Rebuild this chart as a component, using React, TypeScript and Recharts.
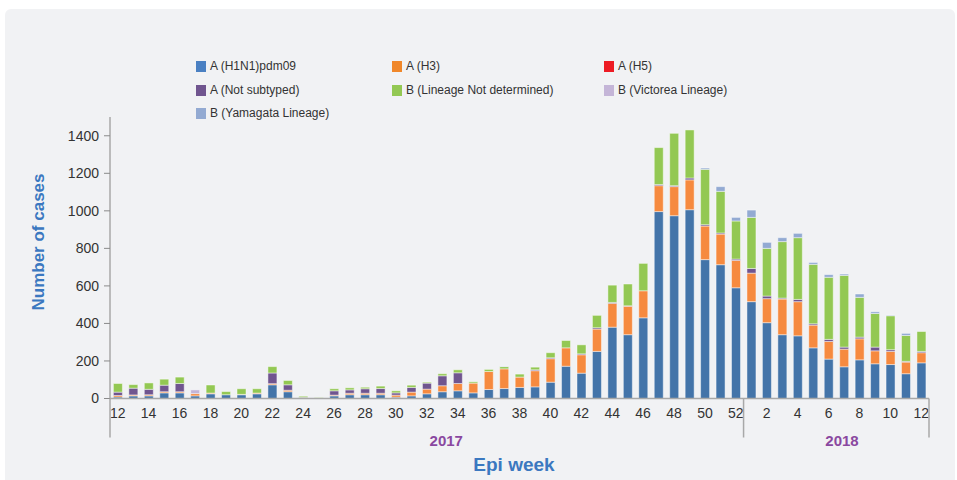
import React from 'react';
import { BarChart, Bar, XAxis, YAxis } from 'recharts';

// Epi weeks: 2017 wk12..52, then 2018 wk1..12
const weeks2017 = [12, 13, 14, 15, 16, 17, 18, 19, 20, 21, 22, 23, 24, 25, 26, 27, 28, 29, 30, 31, 32, 33, 34, 35, 36, 37, 38, 39, 40, 41, 42, 43, 44, 45, 46, 47, 48, 49, 50, 51, 52];
const weeks2018 = [1, 2, 3, 4, 5, 6, 7, 8, 9, 10, 11, 12];

const h1n1 = [8, 14, 14, 30, 30, 14, 25, 20, 20, 25, 73, 36, 2, 0, 14, 20, 20, 20, 7, 14, 25, 36, 41, 30, 48, 53, 59, 62, 87, 172, 135, 251, 380, 340, 430, 996, 974, 1006, 740, 713, 590,
  516, 404, 340, 334, 270, 210, 169, 206, 185, 181, 132, 190];
const h3 = [8, 5, 6, 6, 6, 12, 4, 0, 2, 4, 6, 8, 0, 0, 4, 8, 8, 8, 11, 20, 25, 32, 39, 52, 96, 105, 55, 86, 125, 98, 98, 119, 127, 152, 144, 138, 155, 159, 179, 163, 146,
  152, 128, 190, 182, 121, 94, 94, 112, 69, 70, 62, 54];
const h5 = new Array(53).fill(0);
const notSubtyped = [18, 36, 29, 35, 44, 0, 0, 0, 0, 0, 57, 29, 4, 0, 23, 18, 24, 25, 12, 25, 32, 53, 57, 0, 0, 0, 0, 5, 5, 0, 5, 7, 5, 2, 0, 6, 5, 10, 7, 6, 7,
  25, 14, 5, 12, 7, 11, 11, 9, 20, 9, 4, 7];
const bNotDetermined = [46, 19, 34, 32, 34, 0, 43, 17, 30, 23, 34, 23, 6, 4, 11, 11, 8, 13, 11, 12, 5, 11, 16, 7, 11, 12, 16, 14, 27, 39, 48, 66, 92, 116, 146, 197, 279, 256, 295, 222, 203,
  272, 254, 301, 329, 317, 331, 382, 212, 179, 181, 138, 106];
const bVictoria = [0, 0, 0, 0, 0, 20, 0, 0, 0, 0, 0, 0, 0, 0, 0, 0, 0, 0, 0, 0, 0, 0, 0, 0, 0, 0, 0, 0, 0, 0, 0, 0, 0, 0, 0, 0, 0, 0, 0, 0, 0,
  0, 0, 0, 0, 0, 0, 0, 0, 0, 0, 0, 0];
const bYamagata = [0, 0, 0, 0, 0, 0, 0, 0, 0, 0, 0, 0, 0, 0, 0, 0, 0, 0, 0, 0, 0, 0, 0, 0, 0, 2, 0, 0, 0, 0, 0, 0, 0, 0, 0, 0, 0, 0, 7, 25, 19,
  39, 32, 21, 23, 10, 14, 7, 18, 9, 3, 11, 0];

const yTicks = [0, 200, 400, 600, 800, 1000, 1200, 1400];

const series = [
  { key: 'h1n1', name: 'A (H1N1)pdm09', color: '#4374a9', legend: '#4a80c2', values: h1n1 },
  { key: 'h3', name: 'A (H3)', color: '#f68a3f', legend: '#f0872a', values: h3 },
  { key: 'h5', name: 'A (H5)', color: '#ed1c24', legend: '#ed1c24', values: h5 },
  { key: 'ns', name: 'A (Not subtyped)', color: '#70558f', legend: '#70558f', values: notSubtyped },
  { key: 'bnd', name: 'B (Lineage Not determined)', color: '#93c853', legend: '#93c853', values: bNotDetermined },
  { key: 'vic', name: 'B (Victorea Lineage)', color: '#c4b5d7', legend: '#c4b5d7', values: bVictoria },
  { key: 'yam', name: 'B (Yamagata Lineage)', color: '#93aad2', legend: '#93aad2', values: bYamagata },
];

const data = [
  ...weeks2017.map(w => ({ id: `2017-${w}`, week: w, year: 2017 })),
  ...weeks2018.map(w => ({ id: `2018-${w}`, week: w, year: 2018 })),
].map((d, i) => {
  const row: any = { ...d };
  series.forEach(s => { row[s.key] = s.values[i]; });
  return row;
});

const W = 957;
const H = 480;
const PLOT_LEFT = 110;
const PLOT_RIGHT = 929;
const step = (PLOT_RIGHT - PLOT_LEFT) / data.length;
const FONT = '"Liberation Sans", Arial, Helvetica, sans-serif';

const XTick = (props: any) => {
  const { x, y, index } = props;
  const d = data[index];
  if (!d) return null;
  const lineColor = '#a8a8a8';
  return (
    <g>
      {index % 2 === 0 && (
        <text x={x} y={y + 19} textAnchor="middle" fontSize={14} fill="#333" fontFamily={FONT}>
          {d.week}
        </text>
      )}
      {(index === 0 || index === weeks2017.length) && (
        <line x1={x - step / 2} x2={x - step / 2} y1={y} y2={y + 39} stroke={lineColor} strokeWidth={1.5} />
      )}
      {index === data.length - 1 && (
        <line x1={x + step / 2} x2={x + step / 2} y1={y} y2={y + 39} stroke={lineColor} strokeWidth={1.5} />
      )}
      {index === 21 && (
        <text x={x + 4} y={y + 47} textAnchor="middle" fontSize={15} fontWeight="bold" fill="#8a48a0" fontFamily={FONT}>
          2017
        </text>
      )}
      {index === 47 && (
        <text x={x - 2} y={y + 47} textAnchor="middle" fontSize={15} fontWeight="bold" fill="#8a48a0" fontFamily={FONT}>
          2018
        </text>
      )}
    </g>
  );
};

const legendCols = [196, 392, 604];
const legendRows = [66, 90, 113];

const App = () => {
  return (
    <div style={{ position: 'absolute', left: 0, top: 0, width: W, height: H, background: '#fff', overflow: 'hidden', fontFamily: FONT }}>
      <div style={{ position: 'absolute', left: 5, top: 9, width: 950, height: 490, background: '#f1f2f4', borderRadius: 6 }} />

      {/* legend */}
      {series.map((s, i) => (
        <div
          key={s.key}
          style={{
            position: 'absolute',
            left: legendCols[i % 3],
            top: legendRows[Math.floor(i / 3)] - 6,
            display: 'flex',
            alignItems: 'center',
            fontSize: 12,
            color: '#333',
            whiteSpace: 'nowrap',
            lineHeight: '12px',
          }}
        >
          <span style={{ display: 'inline-block', width: 10, height: 11, background: s.legend, marginRight: 4 }} />
          {s.name}
        </div>
      ))}

      <div style={{ position: 'absolute', left: 0, top: 0 }}>
        <BarChart
          width={W}
          height={H}
          data={data}
          margin={{ top: 117, right: W - PLOT_RIGHT, bottom: 21.5, left: 0 }}
          barCategoryGap="22%"
        >
          <XAxis
            dataKey="id"
            interval={0}
            height={60}
            tickSize={0}
            tickMargin={0}
            tickLine={false}
            axisLine={{ stroke: '#a8a8a8', strokeWidth: 1.5 }}
            tick={<XTick />}
          />
          <YAxis
            width={PLOT_LEFT}
            domain={[0, 1500]}
            ticks={yTicks}
            tickSize={6}
            tickMargin={5}
            axisLine={{ stroke: '#a8a8a8', strokeWidth: 1.5 }}
            tickLine={{ stroke: '#8a8a8a' }}
            tick={{ fontSize: 14, fill: '#333', fontFamily: FONT }}
            label={{
              content: () => (
                <text
                  x={38}
                  y={242}
                  transform="rotate(-90 38 242)"
                  textAnchor="middle"
                  dominantBaseline="central"
                  fontSize={17}
                  fontWeight="bold"
                  fill="#3b78c0"
                  fontFamily={FONT}
                >
                  Number of cases
                </text>
              ),
            }}
          />
          {series.map(s => (
            <Bar
              key={s.key}
              dataKey={s.key}
              name={s.name}
              stackId="a"
              fill={s.color}
              stroke="#ffffff"
              strokeOpacity={0.45}
              strokeWidth={1}
              isAnimationActive={false}
            />
          ))}
        </BarChart>
      </div>

      <div
        style={{
          position: 'absolute',
          left: 414,
          width: 200,
          top: 454,
          textAlign: 'center',
          fontSize: 19,
          fontWeight: 'bold',
          color: '#3b78c0',
        }}
      >
        Epi week
      </div>
    </div>
  );
};

export default App;
